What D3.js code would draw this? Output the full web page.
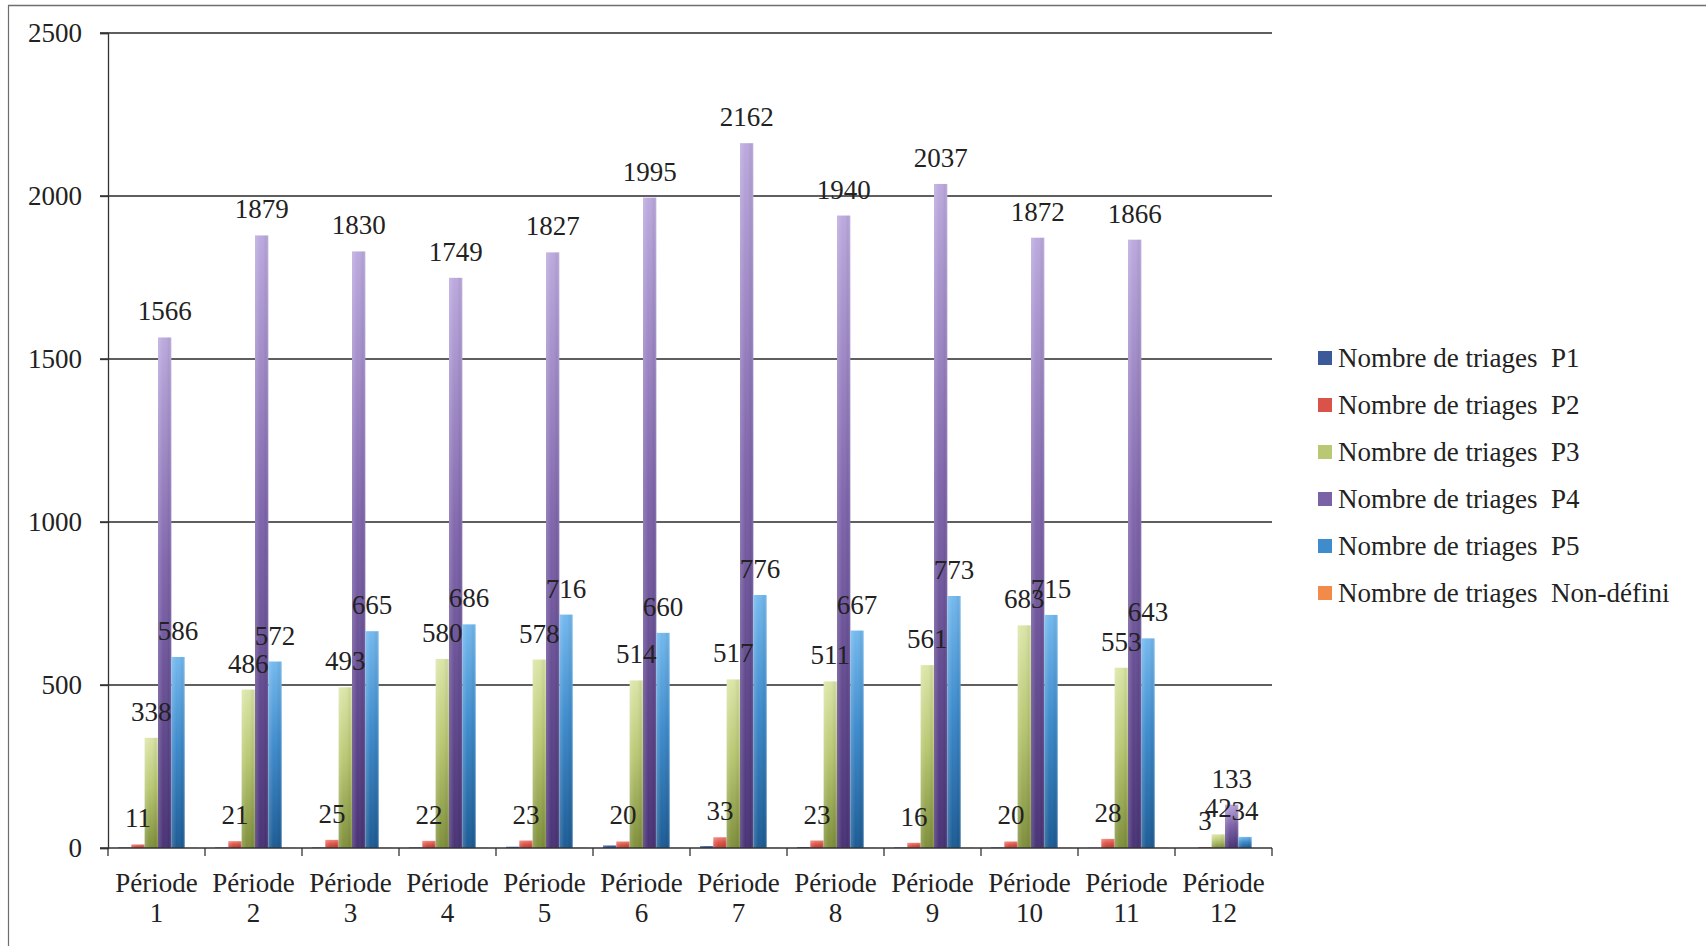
<!DOCTYPE html>
<html>
<head>
<meta charset="utf-8">
<script src="https://cdn.jsdelivr.net/npm/d3@7"></script>
<style>
  html, body { margin: 0; padding: 0; background: #fff; }
  svg { display: block; }
  text { font-family: "Liberation Serif", "DejaVu Serif", serif; fill: #222; }
</style>
</head>
<body>
<svg id="chart" width="1706" height="946"></svg>
<script>
// Triage counts per period, by priority level
const periods = ["1","2","3","4","5","6","7","8","9","10","11","12"];
const seriesNames = [
  "Nombre de triages  P1",
  "Nombre de triages  P2",
  "Nombre de triages  P3",
  "Nombre de triages  P4",
  "Nombre de triages  P5",
  "Nombre de triages  Non-défini"
];
const p1 = [2, 2, 2, 2, 4, 8, 6, 3, 2, 2, 1, 0];
const p2 = [11, 21, 25, 22, 23, 20, 33, 23, 16, 20, 28, 3];
const p3 = [338, 486, 493, 580, 578, 514, 517, 511, 561, 683, 553, 42];
const p4 = [1566, 1879, 1830, 1749, 1827, 1995, 2162, 1940, 2037, 1872, 1866, 133];
const p5 = [586, 572, 665, 686, 716, 660, 776, 667, 773, 715, 643, 34];
const nonDefini = [1, 1, 1, 1, 1, 1, 1, 1, 1, 1, 1, 0];
const yTicks = [0, 500, 1000, 1500, 2000, 2500];

const seriesValues = [p1, p2, p3, p4, p5, nonDefini];
const labelled = [false, true, true, true, true, false];
// gradient stops (top, middle, bottom) per series
const palette = [
  ["#5a78b8", "#3b5a99", "#24407a"],
  ["#f0857a", "#e0574b", "#c03d33"],
  ["#dbe6a8", "#b9c873", "#7f8f3b"],
  ["#bcaade", "#8167ad", "#4a3477"],
  ["#74b9ee", "#3f8ccd", "#1d5c95"],
  ["#fbb27a", "#f79646", "#d9762a"]
];
const legendColors = ["#3b5a99", "#d9534a", "#b9c873", "#7a62a6", "#3f8ccd", "#f28a4a"];

const svg = d3.select("#chart");
const plot = { left: 108, right: 1272, top: 33, bottom: 848 };

const x = d3.scaleBand().domain(periods).range([plot.left, plot.right]).padding(0);
const xs = d3.scaleBand().domain(d3.range(seriesNames.length)).range([10, 90]).padding(0);
const y = d3.scaleLinear().domain([0, 2500]).range([plot.bottom, plot.top]);

// outer frame (top and left edges)
svg.append("line").attr("x1", 8).attr("x2", 1706).attr("y1", 5.5).attr("y2", 5.5)
  .attr("stroke", "#6e6e6e").attr("stroke-width", 1.5);
svg.append("line").attr("x1", 8.5).attr("x2", 8.5).attr("y1", 5).attr("y2", 946)
  .attr("stroke", "#6e6e6e").attr("stroke-width", 1.2);

// gradients
const defs = svg.append("defs");
palette.forEach((c, i) => {
  const g = defs.append("linearGradient").attr("id", "grad" + i)
    .attr("x1", 0).attr("y1", 0).attr("x2", 0).attr("y2", 1);
  g.append("stop").attr("offset", "0%").attr("stop-color", c[0]);
  g.append("stop").attr("offset", "45%").attr("stop-color", c[1]);
  g.append("stop").attr("offset", "100%").attr("stop-color", c[2]);
});
const shade = defs.append("linearGradient").attr("id", "shade")
  .attr("x1", 0).attr("y1", 0).attr("x2", 1).attr("y2", 0);
shade.append("stop").attr("offset", "0%").attr("stop-color", "#fff").attr("stop-opacity", 0.18);
shade.append("stop").attr("offset", "40%").attr("stop-color", "#fff").attr("stop-opacity", 0);
shade.append("stop").attr("offset", "80%").attr("stop-color", "#000").attr("stop-opacity", 0.06);
shade.append("stop").attr("offset", "100%").attr("stop-color", "#fff").attr("stop-opacity", 0.12);

// gridlines with left tick stubs
svg.append("g").selectAll("line").data(yTicks.filter(d => d > 0)).join("line")
  .attr("x1", plot.left - 8).attr("x2", plot.right)
  .attr("y1", d => y(d)).attr("y2", d => y(d))
  .attr("stroke", "#2a2a2a").attr("stroke-width", 1.4);

// y axis
const yAxis = svg.append("g").attr("transform", `translate(${plot.left},0)`)
  .call(d3.axisLeft(y).tickValues(yTicks).tickFormat(d3.format("d")).tickSize(8).tickPadding(18));
yAxis.select(".domain").attr("stroke", "#333").attr("stroke-width", 1.3);
yAxis.selectAll(".tick line").attr("stroke", "#333").attr("stroke-width", 1.3);
yAxis.selectAll(".tick text").attr("font-size", 27).attr("fill", "#222")
  .style("font-family", '"Liberation Serif", serif');

// bars
const barData = [];
periods.forEach((p, pi) => {
  seriesValues.forEach((vals, si) => {
    barData.push({ period: p, si, value: vals[pi] });
  });
});
const bars = svg.append("g");
bars.selectAll("rect.bar").data(barData.filter(d => d.value > 0)).join("rect")
  .attr("class", "bar")
  .attr("x", d => x(d.period) + xs(d.si))
  .attr("width", xs.bandwidth())
  .attr("y", d => y(d.value))
  .attr("height", d => y(0) - y(d.value))
  .attr("fill", d => `url(#grad${d.si})`);
bars.selectAll("rect.shade").data(barData.filter(d => d.value > 0)).join("rect")
  .attr("class", "shade")
  .attr("x", d => x(d.period) + xs(d.si))
  .attr("width", xs.bandwidth())
  .attr("y", d => y(d.value))
  .attr("height", d => y(0) - y(d.value))
  .attr("fill", "url(#shade)");

// x axis
const xAxis = svg.append("g").attr("transform", `translate(0,${plot.bottom})`);
xAxis.append("line").attr("x1", plot.left - 8).attr("x2", plot.right)
  .attr("y1", 0).attr("y2", 0).attr("stroke", "#333").attr("stroke-width", 1.4);
const boundaries = periods.map(p => x(p)).concat([plot.right]);
xAxis.selectAll("line.tick").data(boundaries).join("line").attr("class", "tick")
  .attr("x1", d => d).attr("x2", d => d).attr("y1", 0).attr("y2", 8)
  .attr("stroke", "#333").attr("stroke-width", 1.3);
const catLabels = xAxis.selectAll("text.cat").data(periods).join("text").attr("class", "cat")
  .attr("text-anchor", "middle").attr("font-size", 27)
  .attr("transform", d => `translate(${x(d) + x.bandwidth() / 2},0)`);
catLabels.append("tspan").attr("x", 0).attr("y", 44).text("Période");
catLabels.append("tspan").attr("x", 0).attr("y", 74).text(d => d);

// value labels
svg.append("g").selectAll("text").data(barData.filter(d => labelled[d.si])).join("text")
  .attr("x", d => x(d.period) + xs(d.si) + xs.bandwidth() / 2)
  .attr("y", d => y(d.value) - 17)
  .attr("text-anchor", "middle").attr("font-size", 27)
  .text(d => d.value);

// legend
const legend = svg.append("g").attr("transform", "translate(1318,358)");
const li = legend.selectAll("g").data(seriesNames).join("g")
  .attr("transform", (d, i) => `translate(0,${i * 47})`);
li.append("rect").attr("x", 0).attr("y", -7).attr("width", 14).attr("height", 14)
  .attr("fill", (d, i) => legendColors[i]);
li.append("text").attr("x", 20).attr("y", 9).attr("font-size", 27)
  .style("white-space", "pre").text(d => d);
</script>
</body>
</html>
